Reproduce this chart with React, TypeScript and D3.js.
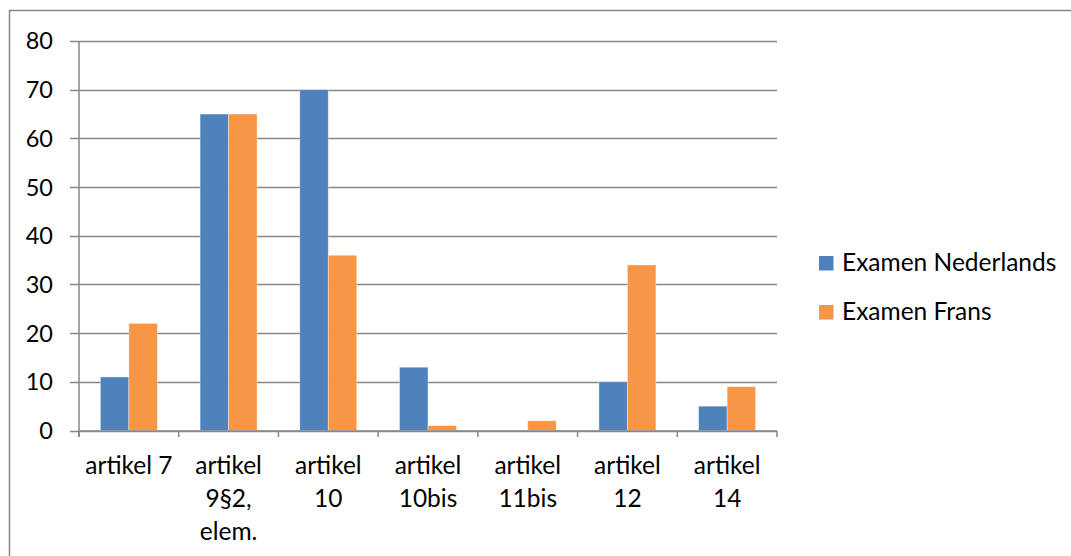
import React, { useEffect } from "react";
import * as d3 from "d3";

const categories: string[][] = [
  ["artikel 7"],
  ["artikel", "9§2,", "elem."],
  ["artikel", "10"],
  ["artikel", "10bis"],
  ["artikel", "11bis"],
  ["artikel", "12"],
  ["artikel", "14"],
];
const seriesNames = ["Examen Nederlands", "Examen Frans"];
const nederlands = [11, 65, 70, 13, 0, 10, 5];
const frans = [22, 65, 36, 1, 2, 34, 9];
const yTicks = [0, 10, 20, 30, 40, 50, 60, 70, 80];
const colors = ["#4F81BD", "#F79646"];

const W = 1071;
const H = 556;
const FONT = "Lato, 'Open Sans', sans-serif";
const FS = 24.5;

export default function App() {
  useEffect(() => {
    document.body.style.margin = "0";
  }, []);

  const x0 = 79;
  const x1 = 777;
  const yTop = 41;
  const yBot = 430.5;
  const keys = categories.map((_, i) => String(i));
  const xBand = d3.scaleBand<string>().domain(keys).range([x0, x1]).paddingInner(0).paddingOuter(0);
  const bw = xBand.bandwidth();
  const barW = bw / 3.5;
  const y = d3.scaleLinear().domain([0, 80]).range([yBot, yTop]);
  const series = [nederlands, frans];

  return (
    <svg width={W} height={H} style={{ display: "block", background: "#fff" }}>
      <rect x={9.5} y={10.5} width={W + 20} height={H + 20} fill="#fff" stroke="#868686" strokeWidth={1.5} />
      {yTicks.map((t) => (
        <g key={t}>
          <line x1={70} x2={x1} y1={Math.round(y(t)) + 0.5} y2={Math.round(y(t)) + 0.5} stroke="#878787" strokeWidth={1.5} />
          <text x={53} y={y(t)} dy="0.36em" textAnchor="end" fontFamily={FONT} fontSize={23.5} fill="#000">
            {t}
          </text>
        </g>
      ))}
      {series.map((vals, s) =>
        vals.map((v, i) => {
          const bx = (xBand(String(i)) as number) + barW * 0.75 + s * barW;
          return (
            <rect
              key={`${s}-${i}`}
              x={bx}
              y={y(v)}
              width={barW}
              height={yBot - y(v)}
              fill={colors[s]}
              stroke={v > 0 ? "#ffffff" : "none"}
              strokeOpacity={0.5}
              strokeWidth={0.75}
            />
          );
        })
      )}
      <line x1={x0} x2={x0} y1={yTop} y2={437} stroke="#878787" strokeWidth={1.5} />
      <line x1={x0} x2={x1} y1={431} y2={431} stroke="#878787" strokeWidth={1.5} />
      {d3.range(categories.length + 1).map((i) => {
        const xx = x0 + i * bw;
        return <line key={i} x1={xx} x2={xx} y1={431} y2={437} stroke="#878787" strokeWidth={1.5} />;
      })}
      {categories.map((lines, i) => {
        const cx = (xBand(String(i)) as number) + bw / 2;
        return (
          <text key={i} textAnchor="middle" fontFamily={FONT} fontSize={FS} fill="#000">
            {lines.map((l, j) => (
              <tspan key={j} x={cx} y={474 + j * 33}>
                {l}
              </tspan>
            ))}
          </text>
        );
      })}
      {seriesNames.map((n, s) => (
        <g key={n}>
          <rect x={819} y={256 + s * 49} width={14.5} height={14.5} fill={colors[s]} />
          <text x={842} y={270.5 + s * 49} fontFamily={FONT} fontSize={FS} fill="#000">
            {n}
          </text>
        </g>
      ))}
    </svg>
  );
}
